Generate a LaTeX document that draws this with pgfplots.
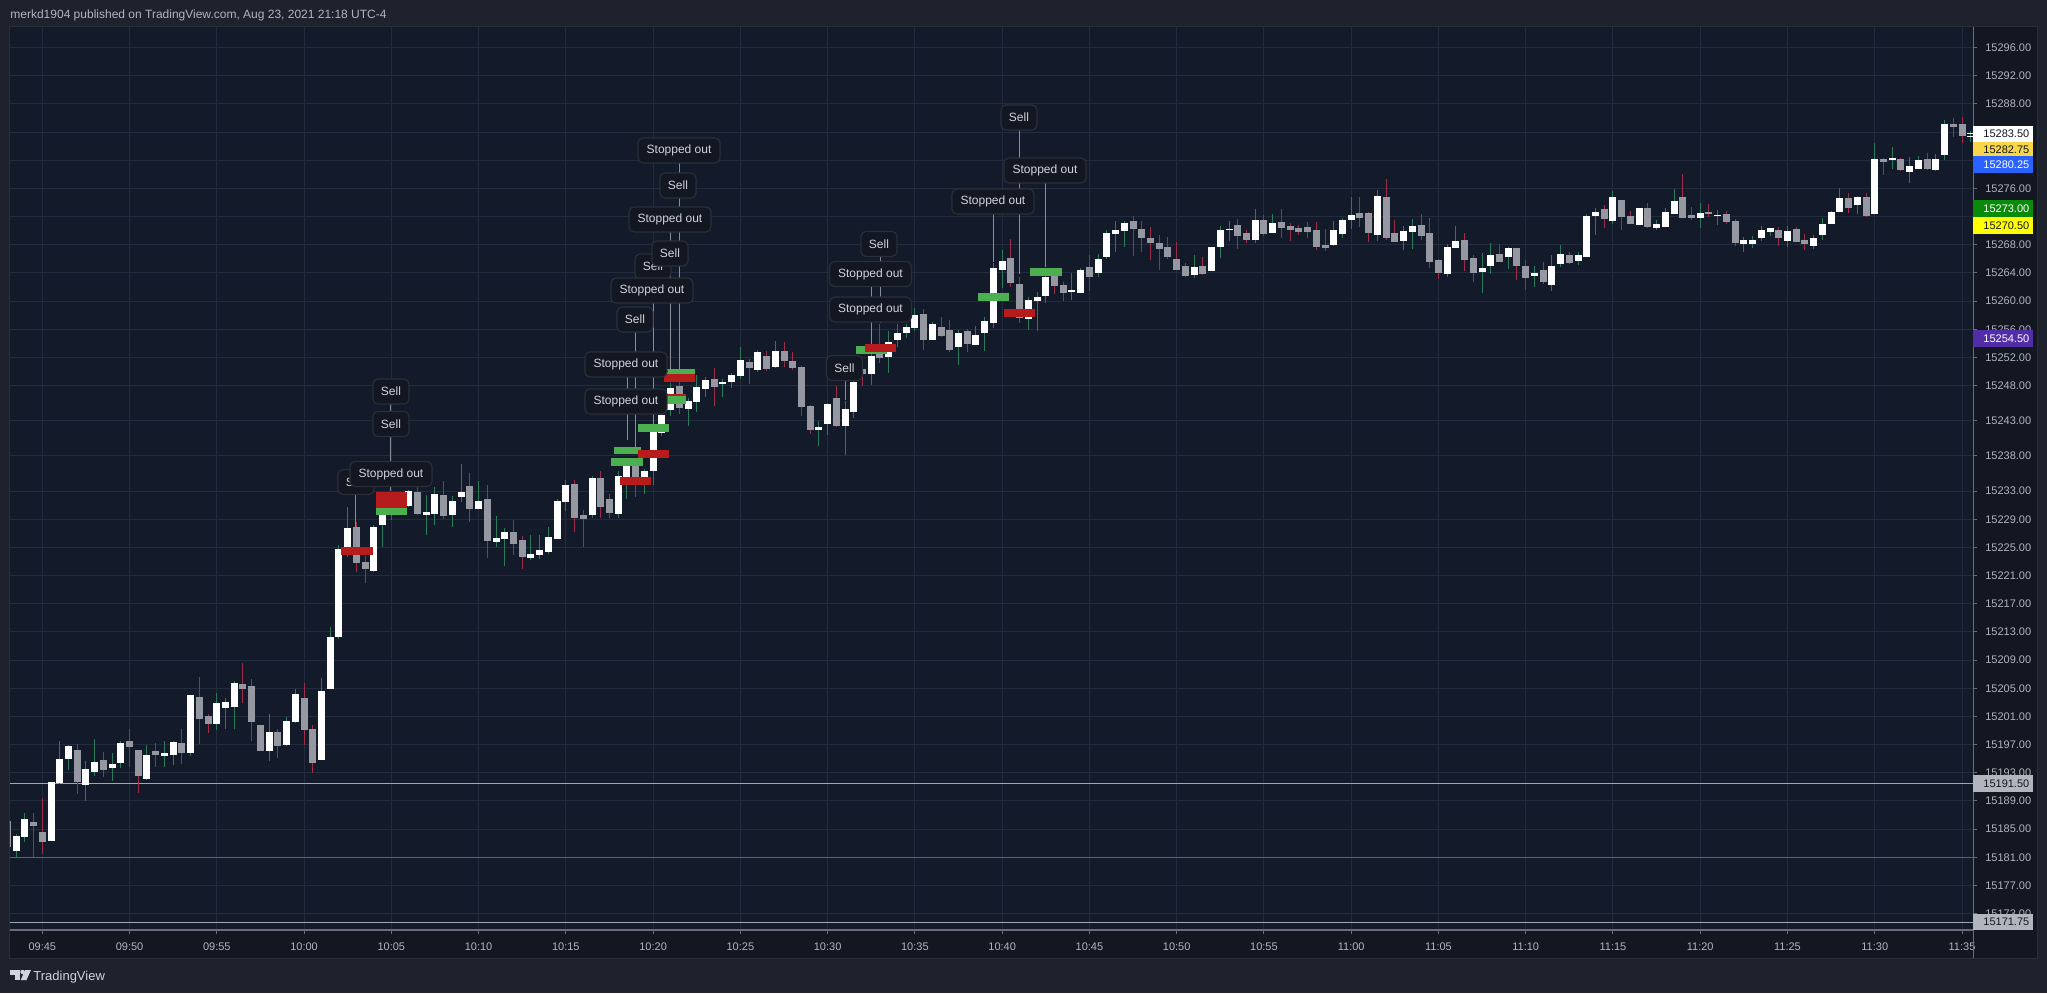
\documentclass[border=0pt]{standalone}
\usepackage{pgfplots}
\pgfplotsset{compat=1.18}
\usepackage{pgfplotstable}
\usepackage{fontspec}
\setmainfont{Liberation Sans}

\definecolor{outerbg}{HTML}{1E222D}
\definecolor{plotbg}{HTML}{131B2B}
\definecolor{scalebg}{HTML}{131722}
\definecolor{gridc}{HTML}{232C3E}
\definecolor{txt}{HTML}{B2B5BE}
\definecolor{lighttxt}{HTML}{D1D4DC}
\definecolor{axisln}{HTML}{6A6D78}
\definecolor{upbody}{HTML}{FFFFFF}
\definecolor{dnbody}{HTML}{9598A1}
\definecolor{upwick}{HTML}{2B7A5A}
\definecolor{dnwick}{HTML}{9E2D48}
\definecolor{mkred}{HTML}{B71C1C}
\definecolor{mkgreen}{HTML}{4CAF50}
\definecolor{annfill}{HTML}{131722}
\definecolor{annborder}{HTML}{2A2E39}
\definecolor{conn}{HTML}{8A8D96}
\definecolor{hline}{HTML}{A3A6AF}
\definecolor{pinkline}{HTML}{D22B5E}
\definecolor{lblyellowA}{HTML}{F7D64A}
\definecolor{lblblue}{HTML}{2962FF}
\definecolor{lblgreen}{HTML}{0A8A0A}
\definecolor{lblyellowB}{HTML}{FFFF00}
\definecolor{lblpurple}{HTML}{512DA8}
\definecolor{lblgray}{HTML}{B2B5BE}
\definecolor{dark}{HTML}{131722}

% t = half-minute candle index (0 = 09:45), o h l c = open high low close
\pgfplotstableread{
t o h l c
-4 15186.3 15186.3 15182.5 15182.5
-3 15181.9 15184.5 15181.0 15184.0
-2 15183.9 15187.4 15183.2 15186.5
-1 15186.1 15187.4 15181.2 15185.5
0 15184.6 15189.5 15181.5 15183.2
1 15183.4 15191.7 15183.4 15191.7
2 15191.7 15197.6 15191.5 15195.1
3 15195.0 15197.1 15193.5 15196.9
4 15196.3 15197.1 15190.0 15191.7
5 15191.3 15194.6 15189.0 15193.6
6 15193.2 15197.9 15192.6 15194.6
7 15194.9 15196.1 15192.6 15193.5
8 15193.8 15195.9 15191.9 15194.35
9 15194.5 15197.6 15193.8 15197.3
10 15197.6 15199.2 15193.9 15196.8
11 15196.3 15196.3 15190.2 15192.5
12 15192.2 15196.9 15191.9 15195.6
13 15196.1 15197.3 15193.8 15195.5
14 15195.5 15197.6 15193.9 15195.9
15 15195.5 15197.6 15194.2 15197.3
16 15197.3 15199.2 15194.2 15195.9
17 15195.8 15204.1 15195.5 15204.1
18 15203.7 15206.7 15197.2 15200.7
19 15201.2 15201.45 15198.75 15200.0
20 15200.0 15204.4 15199.2 15202.9
21 15202.3 15203.7 15199.2 15203.15
22 15202.45 15206.1 15199.2 15205.85
23 15205.7 15208.7 15203.0 15205.0
24 15205.4 15206.4 15197.5 15200.3
25 15199.9 15199.9 15196.2 15196.2
26 15196.2 15201.45 15194.9 15198.9
27 15198.9 15199.3 15195.2 15196.8
28 15197.1 15200.9 15196.8 15200.5
29 15200.3 15204.9 15200.1 15204.2
30 15203.75 15205.9 15197.1 15199.2
31 15199.35 15199.9 15193.0 15194.5
32 15194.95 15206.45 15194.95 15204.75
33 15205.0 15213.7 15205.0 15212.3
34 15212.3 15225.5 15212.1 15224.8
35 15225.1 15230.7 15223.7 15227.8
36 15228.0 15228.75 15221.65 15222.9
37 15223.1 15223.9 15220.1 15222.1
38 15221.65 15228.3 15221.65 15228.0
39 15228.2 15230.3 15225.1 15229.6
40 15229.6 15232.0 15229.0 15231.7
41 15231.7 15232.5 15230.5 15231.0
42 15230.9 15233.2 15230.8 15233.0
43 15233.0 15234.3 15229.6 15229.9
44 15229.6 15232.6 15226.9 15230.0
45 15229.9 15233.6 15228.3 15232.7
46 15232.6 15234.6 15229.2 15229.6
47 15229.6 15232.3 15227.9 15231.7
48 15232.2 15237.0 15231.6 15233.0
49 15233.7 15235.6 15228.6 15230.5
50 15230.6 15234.6 15230.6 15231.7
51 15232.0 15234.0 15223.6 15225.9
52 15225.9 15229.5 15225.1 15226.5
53 15226.2 15227.8 15222.4 15227.3
54 15227.3 15229.0 15224.1 15225.6
55 15226.05 15226.8 15222.1 15223.6
56 15223.6 15226.8 15223.35 15224.1
57 15224.1 15226.8 15223.4 15224.8
58 15224.4 15228.05 15224.1 15226.5
59 15226.35 15232.0 15226.35 15231.7
60 15231.6 15234.6 15230.2 15234.0
61 15234.0 15234.6 15227.3 15229.3
62 15229.75 15230.3 15225.1 15229.2
63 15229.6 15235.3 15229.3 15234.9
64 15234.9 15236.0 15229.3 15230.9
65 15232.0 15232.6 15229.2 15229.9
66 15229.9 15235.9 15229.3 15235.3
67 15234.1 15237.2 15231.9 15236.7
68 15236.7 15237.2 15232.2 15234.8
69 15234.8 15236.2 15232.7 15236.0
70 15235.9 15242.2 15233.9 15241.4
71 15241.2 15244.15 15240.8 15243.8
72 15244.7 15248.3 15243.7 15247.8
73 15248.1 15249.5 15244.0 15245.0
74 15244.7 15246.4 15242.4 15245.85
75 15245.7 15249.6 15244.4 15247.8
76 15247.55 15249.3 15246.4 15248.8
77 15249.1 15250.6 15245.3 15248.0
78 15248.3 15249.0 15246.4 15248.65
79 15248.55 15249.8 15247.7 15249.65
80 15249.55 15253.6 15249.0 15251.8
81 15251.35 15251.8 15248.3 15250.5
82 15250.3 15253.05 15250.0 15252.9
83 15252.3 15252.95 15250.0 15250.5
84 15250.7 15254.3 15250.5 15253.05
85 15253.05 15254.3 15250.7 15251.6
86 15251.6 15252.8 15250.2 15250.5
87 15250.8 15250.8 15243.7 15245.0
88 15245.1 15245.4 15241.2 15241.7
89 15241.7 15243.0 15239.5 15242.25
90 15242.7 15245.5 15241.0 15245.5
91 15246.4 15248.0 15242.2 15242.4
92 15242.4 15245.85 15238.2 15244.8
93 15244.4 15248.65 15243.4 15248.65
94 15250.3 15251.15 15248.0 15249.7
95 15249.7 15253.05 15248.3 15252.3
96 15253.3 15256.9 15251.4 15252.0
97 15252.2 15255.9 15250.0 15254.3
98 15254.5 15256.8 15253.5 15255.55
99 15255.5 15256.8 15254.8 15256.3
100 15256.2 15259.2 15255.9 15258.1
101 15258.3 15259.0 15253.2 15254.5
102 15254.5 15257.1 15254.5 15256.8
103 15256.55 15257.8 15254.9 15255.2
104 15256.0 15257.3 15252.8 15253.2
105 15253.5 15256.0 15251.0 15255.55
106 15255.85 15256.0 15252.8 15253.95
107 15253.95 15256.55 15253.95 15255.3
108 15255.5 15257.8 15253.0 15257.3
109 15256.9 15265.4 15256.2 15264.8
110 15264.5 15267.35 15262.0 15265.8
111 15266.1 15268.8 15262.0 15262.5
112 15262.5 15263.5 15257.0 15257.55
113 15257.5 15260.6 15255.9 15260.15
114 15260.05 15261.3 15255.75 15260.6
115 15260.8 15263.7 15259.8 15263.55
116 15263.5 15263.7 15261.05 15262.05
117 15262.3 15262.85 15260.2 15261.2
118 15261.5 15264.1 15260.2 15261.6
119 15261.2 15264.75 15261.2 15264.55
120 15264.85 15266.55 15261.5 15263.5
121 15264.05 15266.8 15263.5 15266.1
122 15266.3 15270.1 15266.0 15269.7
123 15269.6 15271.4 15267.0 15270.1
124 15270.0 15271.4 15267.7 15271.1
125 15271.4 15272.1 15266.45 15270.3
126 15270.4 15271.4 15267.0 15269.0
127 15269.1 15270.7 15266.0 15268.3
128 15268.4 15269.4 15264.45 15267.45
129 15267.8 15269.1 15266.0 15266.3
130 15266.1 15268.45 15264.45 15264.45
131 15265.1 15265.55 15263.5 15263.75
132 15263.75 15266.55 15263.3 15264.85
133 15265.1 15266.4 15263.75 15264.05
134 15264.3 15267.8 15264.3 15267.8
135 15267.7 15270.8 15266.3 15270.1
136 15270.3 15271.4 15268.6 15270.4
137 15270.8 15271.65 15267.3 15269.3
138 15269.7 15270.1 15268.3 15268.7
139 15268.7 15273.1 15268.3 15271.65
140 15271.65 15272.2 15269.25 15269.7
141 15269.7 15272.4 15269.7 15271.1
142 15271.4 15273.1 15269.0 15270.5
143 15270.8 15271.1 15268.5 15270.25
144 15270.4 15270.8 15269.5 15269.95
145 15270.65 15271.4 15269.0 15269.95
146 15270.1 15271.4 15267.4 15267.7
147 15268.1 15270.4 15267.25 15267.7
148 15267.95 15271.4 15267.95 15270.1
149 15269.7 15271.8 15269.0 15271.65
150 15271.65 15274.9 15270.25 15272.4
151 15272.65 15274.9 15270.65 15271.95
152 15272.65 15272.8 15268.5 15269.7
153 15269.5 15275.9 15268.7 15275.05
154 15274.9 15277.35 15268.7 15269.0
155 15269.7 15271.4 15268.5 15268.5
156 15268.7 15270.65 15267.25 15270.1
157 15269.95 15271.65 15267.4 15270.8
158 15270.8 15272.4 15268.7 15269.25
159 15269.7 15271.8 15264.7 15265.7
160 15265.85 15266.1 15263.3 15264.0
161 15264.0 15268.1 15263.4 15267.8
162 15267.7 15270.65 15267.7 15268.7
163 15268.8 15269.7 15264.3 15266.0
164 15266.1 15266.55 15262.7 15264.0
165 15264.3 15266.8 15261.15 15264.85
166 15265.0 15268.4 15264.0 15266.55
167 15266.8 15268.1 15265.7 15265.7
168 15266.25 15267.8 15264.7 15267.55
169 15267.55 15267.55 15263.0 15265.0
170 15265.1 15265.85 15261.7 15263.4
171 15263.7 15265.1 15262.15 15264.1
172 15264.4 15265.55 15262.4 15262.7
173 15262.4 15266.55 15261.4 15265.1
174 15265.4 15268.1 15265.0 15266.8
175 15266.55 15267.1 15265.4 15265.4
176 15265.7 15267.1 15265.25 15266.55
177 15266.25 15272.4 15266.25 15272.1
178 15272.2 15273.35 15269.5 15272.8
179 15273.1 15273.65 15270.5 15271.65
180 15271.5 15275.65 15270.95 15274.9
181 15274.35 15274.35 15270.25 15271.95
182 15272.1 15272.8 15270.95 15270.95
183 15270.95 15273.35 15270.95 15273.35
184 15273.35 15274.1 15270.5 15270.65
185 15270.5 15271.65 15270.25 15271.1
186 15270.65 15273.35 15270.65 15272.8
187 15272.5 15275.9 15272.5 15274.35
188 15274.9 15278.05 15271.95 15271.95
189 15272.4 15273.35 15271.5 15271.95
190 15271.95 15274.1 15270.5 15272.65
191 15272.8 15273.8 15271.95 15272.5
192 15272.3 15273.1 15270.95 15272.4
193 15272.35 15272.8 15270.95 15271.25
194 15271.4 15271.8 15267.95 15268.25
195 15268.25 15269.1 15266.95 15268.7
196 15268.25 15269.4 15267.7 15268.8
197 15268.95 15270.8 15268.7 15270.1
198 15269.95 15270.4 15269.25 15270.4
199 15270.1 15270.65 15267.95 15268.95
200 15268.7 15270.65 15267.7 15270.1
201 15270.4 15270.65 15268.5 15268.5
202 15268.7 15269.65 15267.4 15268.25
203 15267.95 15269.4 15267.4 15269.1
204 15269.5 15271.8 15268.7 15271.1
205 15270.95 15272.8 15270.95 15272.65
206 15272.65 15276.05 15272.65 15274.65
207 15274.65 15275.35 15272.5 15273.2
208 15273.65 15275.05 15272.5 15274.9
209 15274.9 15275.35 15271.95 15272.2
210 15272.5 15282.6 15272.5 15280.3
211 15280.3 15280.3 15277.9 15279.9
212 15280.2 15281.9 15278.75 15280.3
213 15280.3 15280.3 15278.5 15278.75
214 15278.5 15280.6 15276.9 15279.3
215 15278.9 15280.6 15278.9 15280.05
216 15280.3 15281.2 15278.75 15278.9
217 15278.75 15280.9 15278.5 15280.3
218 15280.75 15285.85 15280.2 15285.15
219 15285.15 15286.15 15283.45 15284.7
220 15285.15 15286.15 15282.45 15283.45
221 15283.45 15284.25 15282.75 15283.5
}\candles

\tikzset{
  ann/.style={draw=annborder, fill=annfill, rounded corners=2.5pt, text=lighttxt,
    font=\fontsize{6pt}{7pt}\selectfont, inner sep=0pt, minimum height=12.5pt, line width=0.6pt},
  so/.style={ann, minimum width=41pt},
  sl/.style={ann, minimum width=18pt},
  plbl/.style={anchor=west, inner sep=0pt, font=\fontsize{5.5pt}{6.5pt}\selectfont},
}
\pgfplotsset{
  candlepart/.style n args={2}{draw=none, no markers,
    /pgfplots/error bars/y dir=both,
    /pgfplots/error bars/y explicit,
    /pgfplots/error bars/error mark=none,
    /pgfplots/error bars/error bar style={draw=#1, line width=#2}},
}

\begin{document}
\begin{tikzpicture}
\begin{scope}[x=0.5pt,y=0.5pt]
\useasboundingbox (0,0) rectangle (2047,993);
\fill[outerbg] (0,0) rectangle (2047,993);
\fill[scalebg] (10,35.3) rectangle (2036.7,966);
\draw[annborder, line width=0.6pt] (9.5,34.8) rectangle (2037.2,966.5);
\end{scope}

\begin{axis}[
  at={(5pt,31.5pt)}, anchor=south west,
  scale only axis, width=981.5pt, height=451.5pt,
  xmin=-3.70, xmax=221.26, ymin=15170.66, ymax=15298.93,
  scaled y ticks=false, scaled x ticks=false,
  axis background/.style={fill=plotbg},
  axis line style={draw=none},
  xtick={0,10,...,220},
  xticklabels={09:45,09:50,09:55,10:00,10:05,10:10,10:15,10:20,10:25,10:30,10:35,10:40,10:45,10:50,10:55,11:00,11:05,11:10,11:15,11:20,11:25,11:30,11:35},
  ytick={15173,15177,15181,15185,15189,15193,15197,15201,15205,15209,15213,15217,15221,15225,15229,15233,15238,15243,15248,15252,15256,15260,15264,15268,15272,15276,15280,15284,15288,15292,15296},
  yticklabels={15173.00,15177.00,15181.00,15185.00,15189.00,15193.00,15197.00,15201.00,15205.00,15209.00,15213.00,15217.00,15221.00,15225.00,15229.00,15233.00,15238.00,15243.00,15248.00,15252.00,15256.00,15260.00,15264.00,15268.00,{},15276.00,{},{},15288.00,15292.00,15296.00},
  xtick pos=left, ytick pos=right, yticklabel pos=right,
  tick align=outside, major tick length=2pt,
  tick style={axisln, line width=0.5pt},
  grid=major, major grid style={gridc, line width=0.5pt},
  ticklabel style={font=\fontsize{5.5pt}{6.5pt}\selectfont, text=txt},
  xticklabel style={yshift=-0.8pt},
  yticklabel style={xshift=0.6pt},
]
% horizontal price lines
\addplot[hline, line width=0.5pt] coordinates {(-3.7,15191.5) (221.26,15191.5)};
\addplot[pinkline, line width=0.5pt] coordinates {(-3.7,15181) (221.26,15181)};
\addplot[hline, line width=0.5pt] coordinates {(-3.7,15171.75) (221.26,15171.75)};

% wicks
\addplot[restrict expr to domain={\thisrow{c}-\thisrow{o}}{0:1000}, candlepart={upwick}{0.5pt}]
  table[x=t, y expr={(\thisrow{h}+\thisrow{l})/2}, y error expr={(\thisrow{h}-\thisrow{l})/2}] {\candles};
\addplot[restrict expr to domain={\thisrow{o}-\thisrow{c}}{0.001:1000}, candlepart={dnwick}{0.5pt}]
  table[x=t, y expr={(\thisrow{h}+\thisrow{l})/2}, y error expr={(\thisrow{h}-\thisrow{l})/2}] {\candles};
% bodies
\addplot[restrict expr to domain={\thisrow{c}-\thisrow{o}}{0:1000}, candlepart={upbody}{3.5pt}]
  table[x=t, y expr={(\thisrow{o}+\thisrow{c})/2}, y error expr={max(abs(\thisrow{c}-\thisrow{o})/2,0.07)}] {\candles};
\addplot[restrict expr to domain={\thisrow{o}-\thisrow{c}}{0.001:1000}, candlepart={dnbody}{3.5pt}]
  table[x=t, y expr={(\thisrow{o}+\thisrow{c})/2}, y error expr={max(abs(\thisrow{c}-\thisrow{o})/2,0.07)}] {\candles};

% connector lines
\addplot[conn, line width=0.5pt] coordinates {(39.96,15247.1) (39.96,15233.0)};
\addplot[conn, line width=0.5pt] coordinates {(35.95,15234.3) (35.95,15225.1)};
\addplot[conn, line width=0.5pt] coordinates {(73.0,15281.4) (73.0,15250.0)};
\addplot[conn, line width=0.5pt] coordinates {(71.97,15271.6) (71.97,15250.0)};
\addplot[conn, line width=0.5pt] coordinates {(70.02,15264.9) (70.02,15242.5)};
\addplot[conn, line width=0.5pt] coordinates {(67.96,15257.4) (67.96,15239.3)};
\addplot[conn, line width=0.5pt] coordinates {(67.04,15251.0) (67.04,15240.25)};
\addplot[conn, line width=0.5pt] coordinates {(96.03,15268.1) (96.03,15256.9)};
\addplot[conn, line width=0.5pt] coordinates {(95.0,15263.8) (95.0,15253.5)};
\addplot[conn, line width=0.5pt] coordinates {(92.02,15250.5) (92.02,15246.0)};
\addplot[conn, line width=0.5pt] coordinates {(108.98,15274.1) (108.98,15265.6)};
\addplot[conn, line width=0.5pt] coordinates {(111.96,15286.0) (111.96,15263.8)};
\addplot[conn, line width=0.5pt] coordinates {(114.94,15278.5) (114.94,15264.9)};

% trade markers
\addplot[mkred, line width=4pt] coordinates {(34.23,15224.5) (37.85,15224.5)};
\addplot[mkred, line width=4pt] coordinates {(38.24,15232.35) (41.83,15232.35)};
\addplot[mkred, line width=4pt] coordinates {(38.24,15231.2) (41.83,15231.2)};
\addplot[mkgreen, line width=3.6pt] coordinates {(38.24,15230.1) (41.83,15230.1)};
\addplot[mkgreen, line width=3.6pt] coordinates {(65.52,15238.8) (68.58,15238.8)};
\addplot[mkgreen, line width=4pt] coordinates {(65.21,15237.2) (68.84,15237.2)};
\addplot[mkred, line width=4pt] coordinates {(66.25,15234.4) (69.80,15234.4)};
\addplot[mkred, line width=4pt] coordinates {(68.31,15238.3) (71.82,15238.3)};
\addplot[mkgreen, line width=4pt] coordinates {(68.27,15242.0) (71.86,15242.0)};
\addplot[mkred, line width=4pt] coordinates {(70.22,15246.3) (73.77,15246.3)};
\addplot[mkgreen, line width=4pt] coordinates {(70.22,15245.9) (73.77,15245.9)};
\addplot[mkgreen, line width=4pt] coordinates {(71.25,15249.75) (74.80,15249.75)};
\addplot[mkred, line width=4pt] coordinates {(71.25,15249.1) (74.80,15249.1)};
\addplot[mkgreen, line width=4pt] coordinates {(93.25,15253.0) (96.77,15253.0)};
\addplot[mkred, line width=4pt] coordinates {(94.28,15253.3) (97.80,15253.3)};
\addplot[mkgreen, line width=4pt] coordinates {(107.27,15260.6) (110.78,15260.6)};
\addplot[mkred, line width=4pt] coordinates {(110.25,15258.3) (113.76,15258.3)};
\addplot[mkgreen, line width=4pt] coordinates {(113.23,15264.1) (116.82,15264.1)};

% annotation labels
\node[sl] at (axis cs:39.96,15247.15) {Sell};
\node[sl] at (axis cs:39.96,15242.54) {Sell};
\node[sl] at (axis cs:35.95,15234.3) {Sell};
\node[so] at (axis cs:39.96,15235.44) {Stopped out};
\node[so] at (axis cs:72.97,15281.39) {Stopped out};
\node[sl] at (axis cs:72.85,15276.41) {Sell};
\node[so] at (axis cs:71.93,15271.59) {Stopped out};
\node[sl] at (axis cs:69.98,15264.91) {Sell};
\node[sl] at (axis cs:71.93,15266.76) {Sell};
\node[so] at (axis cs:69.87,15261.5) {Stopped out};
\node[sl] at (axis cs:67.92,15257.38) {Sell};
\node[so] at (axis cs:66.89,15250.99) {Stopped out};
\node[so] at (axis cs:66.89,15245.73) {Stopped out};
\node[sl] at (axis cs:95.88,15268.11) {Sell};
\node[so] at (axis cs:94.91,15263.84) {Stopped out};
\node[so] at (axis cs:94.91,15258.8) {Stopped out};
\node[sl] at (axis cs:91.93,15250.49) {Sell};
\node[so] at (axis cs:108.95,15274.14) {Stopped out};
\node[so] at (axis cs:114.91,15278.55) {Stopped out};
\node[sl] at (axis cs:111.93,15286.07) {Sell};
\end{axis}

\begin{scope}[x=0.5pt,y=0.5pt]
% scale border lines
\draw[axisln, line width=0.6pt] (1973.3,35.3) -- (1973.3,966);
\draw[axisln, line width=0.6pt] (10,63) -- (1973.3,63);
% current price tick
\draw[white, line width=0.6pt] (1966.7,859.5) -- (1973.3,859.5);
% price labels on the scale
\fill[white] (1973.3,851.3) rectangle (2032.7,867.3);
\node[plbl, text=dark] at (1983,859.3) {15283.50};
\fill[lblyellowA] (1973.3,836.7) rectangle (2032.7,851.3);
\node[plbl, text=dark] at (1983,843.7) {15282.75};
\fill[lblblue] (1973.3,820.3) rectangle (2032.7,836.7);
\node[plbl, text=white] at (1983,828.7) {15280.25};
\fill[lblgreen] (1973.3,776.3) rectangle (2032.7,792.7);
\node[plbl, text=white] at (1983,784.5) {15273.00};
\fill[lblyellowB] (1973.3,759.3) rectangle (2032.7,775.7);
\node[plbl, text=dark] at (1983,767.5) {15270.50};
\fill[lblpurple] (1973.3,646.3) rectangle (2032.7,662.7);
\node[plbl, text=white] at (1983,654.5) {15254.50};
\fill[lblgray] (1973.3,201.3) rectangle (2032.7,217.7);
\node[plbl, text=dark] at (1983,209.5) {15191.50};
\fill[lblgray] (1973.3,63) rectangle (2032.7,78.7);
\node[plbl, text=dark] at (1983,70.8) {15171.75};
% header
\node[anchor=base west, inner sep=0pt, text=txt, font=\fontsize{6pt}{7pt}\selectfont] at (10,974.7)
  {merkd1904 published on TradingView.com, Aug 23, 2021 21:18 UTC-4};
% logo
\fill[lighttxt] (10,23) rectangle (19.5,18.5);
\fill[lighttxt] (15,23) rectangle (19.5,13);
\fill[lighttxt] (22.5,21) circle (2.2);
\fill[lighttxt] (25,23) -- (31,23) -- (26.5,13) -- (20.8,13) -- cycle;
\node[anchor=base west, inner sep=0pt, text=lighttxt, font=\fontsize{6.5pt}{7.5pt}\selectfont] at (33,12.5) {TradingView};
\end{scope}
\end{tikzpicture}
\end{document}
